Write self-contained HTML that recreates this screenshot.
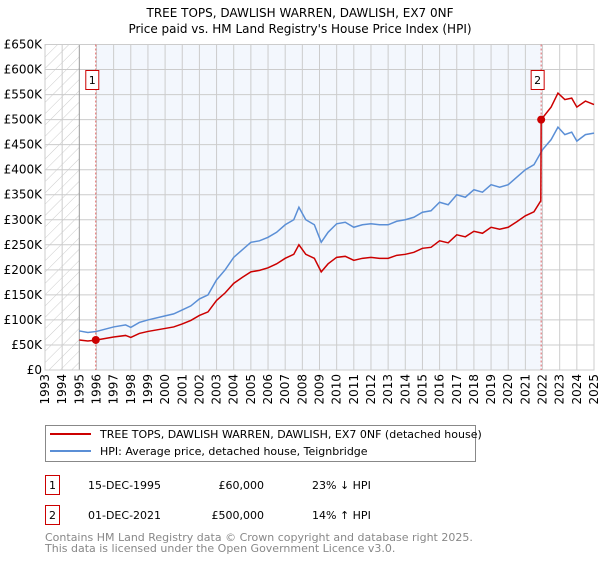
<!DOCTYPE html>
<html><head><meta charset="utf-8"><style>
body{margin:0;background:#fff;font-family:"DejaVu Sans","Liberation Sans",sans-serif;}
svg text{font-family:"DejaVu Sans","Liberation Sans",sans-serif;}
</style></head><body>
<svg id="chart" width="600" height="560" xmlns="http://www.w3.org/2000/svg">
<defs><pattern id="hatch" width="8" height="8" patternUnits="userSpaceOnUse" patternTransform="rotate(45)"><line x1="0" y1="0" x2="0" y2="8" stroke="#ccc" stroke-width="1"/></pattern></defs>
<text x="300" y="17" text-anchor="middle" font-size="12">TREE TOPS, DAWLISH WARREN, DAWLISH, EX7 0NF</text>
<text x="300" y="33" text-anchor="middle" font-size="12">Price paid vs. HM Land Registry's House Price Index (HPI)</text>
<g id="plot"></g>
<g>
<rect x="45.5" y="425.5" width="430" height="36" fill="#fff" stroke="#888"/>
<line x1="50" y1="434" x2="91" y2="434" stroke="#cc0000" stroke-width="2"/>
<text x="100" y="438" font-size="11">TREE TOPS, DAWLISH WARREN, DAWLISH, EX7 0NF (detached house)</text>
<line x1="50" y1="451" x2="91" y2="451" stroke="#5b8fd6" stroke-width="2"/>
<text x="100" y="455" font-size="11">HPI: Average price, detached house, Teignbridge</text>
</g>
<g font-size="11">
<rect x="45.5" y="475.5" width="14" height="19" fill="#fff" stroke="#cc0000"/>
<text x="52.5" y="489" text-anchor="middle">1</text>
<text x="88" y="489">15-DEC-1995</text>
<text x="264" y="489" text-anchor="end">£60,000</text>
<text x="312" y="489">23% ↓ HPI</text>
<rect x="45.5" y="505.5" width="14" height="19" fill="#fff" stroke="#cc0000"/>
<text x="52.5" y="519" text-anchor="middle">2</text>
<text x="88" y="519">01-DEC-2021</text>
<text x="264" y="519" text-anchor="end">£500,000</text>
<text x="312" y="519">14% ↑ HPI</text>
</g>
<text x="45" y="541" font-size="11" fill="#888">Contains HM Land Registry data © Crown copyright and database right 2025.</text>
<text x="45" y="552" font-size="11" fill="#888">This data is licensed under the Open Government Licence v3.0.</text>
</svg>
<script>
const hpiYears=[1995,1995.5,1996,1997,1997.7,1998,1998.5,1999,2000,2000.5,2001,2001.5,2002,2002.5,2003,2003.5,2004,2004.5,2005,2005.5,2006,2006.5,2007,2007.5,2007.8,2008.2,2008.7,2009.1,2009.5,2010,2010.5,2011,2011.5,2012,2012.5,2013,2013.5,2014,2014.5,2015,2015.5,2016,2016.5,2017,2017.5,2018,2018.5,2019,2019.5,2020,2020.5,2021,2021.5,2022,2022.5,2022.9,2023.3,2023.7,2024,2024.5,2025];
const hpiValues=[78,75,77,86,90,85,95,100,108,112,120,128,142,150,180,200,225,240,255,258,265,275,290,300,325,300,290,255,275,292,295,285,290,292,290,290,297,300,305,315,318,335,330,350,345,360,355,370,365,370,385,400,410,440,460,485,470,475,457,470,473];
const priceYears=[1995,1995.5,1996,1997,1997.7,1998,1998.5,1999,2000,2000.5,2001,2001.5,2002,2002.5,2003,2003.5,2004,2004.5,2005,2005.5,2006,2006.5,2007,2007.5,2007.8,2008.2,2008.7,2009.1,2009.5,2010,2010.5,2011,2011.5,2012,2012.5,2013,2013.5,2014,2014.5,2015,2015.5,2016,2016.5,2017,2017.5,2018,2018.5,2019,2019.5,2020,2020.5,2021,2021.5,2021.9,2021.92,2022.5,2022.9,2023.3,2023.7,2024,2024.5,2025];
const priceValues=[60,58,60,66,69,65,73,77,83,86,92,99,109,116,139,154,173,185,196,199,204,212,223,231,250,231,223,196,212,225,227,219,223,225,223,223,229,231,235,243,245,258,254,270,266,277,273,285,281,285,296,308,316,338,500,525,553,540,543,525,537,530];
const saleYears=[1995.96,2021.92];
const saleValues=[60,500];
const saleLabels=["1","2"];
const yTicks=[0,50,100,150,200,250,300,350,400,450,500,550,600,650];
const xTicks=[1993,1994,1995,1996,1997,1998,1999,2000,2001,2002,2003,2004,2005,2006,2007,2008,2009,2010,2011,2012,2013,2014,2015,2016,2017,2018,2019,2020,2021,2022,2023,2024,2025];

const X0=45,X1=594,Y0=370,Y1=44.5;
const xs=y=>X0+(y-1993)/(2025-1993)*(X1-X0);
const ys=v=>Y0-v/650*(Y0-Y1);
const NS="http://www.w3.org/2000/svg";
const g=document.getElementById('plot');
function mk(t,a,p){const e=document.createElementNS(NS,t);for(const k in a)e.setAttribute(k,a[k]);(p||g).appendChild(e);return e;}
let e;
e=mk('rect',{x:X0,y:Y1,width:X1-X0,height:Y0-Y1,fill:'#fff'});


e=mk('rect',{x:xs(1996),y:Y1,width:xs(2022)-xs(1996),height:Y0-Y1,fill:'#eef3fc',opacity:0.7});


e=mk('rect',{x:X0,y:Y1,width:xs(1995)-X0,height:Y0-Y1,fill:'url(#hatch)'});


yTicks.forEach(v=>{
  e=mk('line',{x1:X0,x2:X1,y1:ys(v),y2:ys(v),stroke:'#ccc','stroke-width':1});
  
  
  e=mk('text',{x:X0-3,y:ys(v)+4,'text-anchor':'end','font-size':12});
  e.textContent=v===0?'£0':'£'+v+'K';
  
  
});
xTicks.forEach(yr=>{
  e=mk('line',{x1:xs(yr),x2:xs(yr),y1:Y1,y2:Y0,stroke:yr===1995?'#999':'#ccc','stroke-width':1});
  
  
  e=mk('text',{x:0,y:0,'text-anchor':'end','font-size':12,transform:`translate(${xs(yr)+4},374) rotate(-90)`});
  e.textContent=yr;
  
  
});
e=mk('rect',{x:X0,y:Y1,width:X1-X0,height:Y0-Y1,fill:'none',stroke:'#ccc'});


saleYears.forEach((yr,i)=>{
  e=mk('line',{x1:xs(yr),x2:xs(yr),y1:Y1,y2:Y0,stroke:'#e06060','stroke-width':1,'stroke-dasharray':'2,2'});
  
  
});
e=mk('polyline',{points:hpiYears.map((y,i)=>xs(y)+','+ys(hpiValues[i])).join(' '),fill:'none',stroke:'#5b8fd6','stroke-width':1.5});


e=mk('polyline',{points:priceYears.map((y,i)=>xs(y)+','+ys(priceValues[i])).join(' '),fill:'none',stroke:'#cc0000','stroke-width':1.5});


saleYears.forEach((yr,i)=>{
  e=mk('circle',{cx:xs(yr),cy:ys(saleValues[i]),r:4,fill:'#cc0000'});
  
  
  const bx=xs(yr)-10;
  e=mk('rect',{x:bx,y:70.5,width:13,height:19,fill:'#fff',stroke:'#cc0000'});
  
  
  e=mk('text',{x:bx+6.5,y:84,'text-anchor':'middle','font-size':11});
  e.textContent=saleLabels[i];
  
  
});
</script>
</body></html>
